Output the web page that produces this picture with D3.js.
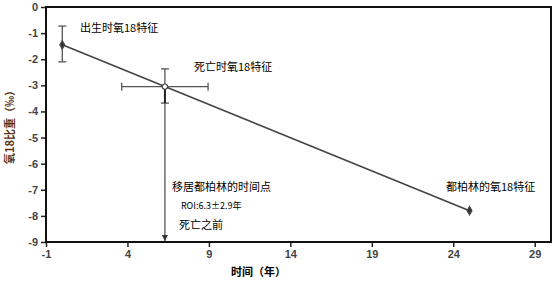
<!DOCTYPE html>
<html>
<head>
<meta charset="utf-8">
<script src="https://cdn.jsdelivr.net/npm/d3@7"></script>
<style>
body{margin:0;background:#fff;}
text{font-family:"Microsoft YaHei","Noto Sans CJK SC",sans-serif;}
</style>
</head>
<body>
<div id="chart"></div>
<script>
// data
var pointNames = ["出生时氧18特征", "死亡时氧18特征", "都柏林的氧18特征"];
var pointX = [0, 6.3, 25];
var pointY = [-1.45, -3.05, -7.8];
var yErrLow = [-2.1, -3.68, null];
var yErrHigh = [-0.73, -2.37, null];
var xErrLow = [null, 3.65, null];
var xErrHigh = [null, 8.95, null];
var xTicks = [-1, 4, 9, 14, 19, 24, 29];
var yTicks = [0, -1, -2, -3, -4, -5, -6, -7, -8, -9];
var moveTime = 6.3;

var margin = {top: 7, right: 3, bottom: 43, left: 46};
var width = 554 - margin.left - margin.right;
var height = 285 - margin.top - margin.bottom;

var svg = d3.select("#chart").append("svg")
  .attr("width", 554).attr("height", 285)
  .append("g")
  .attr("transform", "translate(" + margin.left + "," + margin.top + ")");

var x = d3.scaleLinear().domain([-1, 30]).range([0, width]);
var y = d3.scaleLinear().domain([-9, 0]).range([height, 0]);

var fmt = function(d) { return String(d); };

// x axis
var xAxis = svg.append("g")
  .attr("transform", "translate(0," + height + ")")
  .call(d3.axisBottom(x).tickValues(xTicks).tickSize(5).tickPadding(3).tickFormat(fmt));
xAxis.select(".domain").remove();
xAxis.selectAll("line").attr("stroke", "#222").attr("stroke-width", 1.5);
xAxis.selectAll("text").style("font-family", "Arial, 'Liberation Sans', sans-serif")
  .style("font-size", "11px").style("font-weight", "bold").attr("fill", "#444");

// y axis
var yAxis = svg.append("g")
  .call(d3.axisLeft(y).tickValues(yTicks).tickSize(5).tickPadding(3).tickFormat(fmt));
yAxis.select(".domain").remove();
yAxis.selectAll("line").attr("stroke", "#222").attr("stroke-width", 1.5);
yAxis.selectAll("text").style("font-family", "Arial, 'Liberation Sans', sans-serif")
  .style("font-size", "11px").style("font-weight", "bold").attr("fill", "#444");

// frame
svg.append("rect").attr("x", 0).attr("y", 0).attr("width", width).attr("height", height)
  .attr("fill", "none").attr("stroke", "#111").attr("stroke-width", 2);

// vertical line for moving time with arrow
svg.append("defs").append("marker")
  .attr("id", "arr").attr("viewBox", "0 0 10 10").attr("refX", 10).attr("refY", 5)
  .attr("markerWidth", 5).attr("markerHeight", 5).attr("orient", "auto")
  .append("path").attr("d", "M0,0L10,5L0,10Z").attr("fill", "#333");
svg.append("line")
  .attr("x1", x(moveTime)).attr("x2", x(moveTime))
  .attr("y1", y(pointY[1])).attr("y2", y(-9) - 1)
  .attr("stroke", "#555").attr("stroke-width", 1.3)
  .attr("marker-end", "url(#arr)");

// trend line
svg.append("line")
  .attr("x1", x(pointX[0])).attr("y1", y(pointY[0]))
  .attr("x2", x(pointX[2])).attr("y2", y(pointY[2]))
  .attr("stroke", "#444").attr("stroke-width", 1.6);

// error bars
pointX.forEach(function(px, i) {
  if (yErrLow[i] !== null) {
    svg.append("line").attr("x1", x(px)).attr("x2", x(px))
      .attr("y1", y(yErrLow[i])).attr("y2", y(yErrHigh[i]))
      .attr("stroke", "#555").attr("stroke-width", 1.3);
    [yErrLow[i], yErrHigh[i]].forEach(function(v) {
      svg.append("line").attr("x1", x(px) - 4).attr("x2", x(px) + 4)
        .attr("y1", y(v)).attr("y2", y(v)).attr("stroke", "#555").attr("stroke-width", 1.3);
    });
  }
  if (xErrLow[i] !== null) {
    svg.append("line").attr("x1", x(xErrLow[i])).attr("x2", x(xErrHigh[i]))
      .attr("y1", y(pointY[i])).attr("y2", y(pointY[i]))
      .attr("stroke", "#555").attr("stroke-width", 1.3);
    [xErrLow[i], xErrHigh[i]].forEach(function(v) {
      svg.append("line").attr("x1", x(v)).attr("x2", x(v))
        .attr("y1", y(pointY[i]) - 4).attr("y2", y(pointY[i]) + 4)
        .attr("stroke", "#555").attr("stroke-width", 1.3);
    });
  }
});
// darker lower half of death error bar
svg.append("line").attr("x1", x(pointX[1])).attr("x2", x(pointX[1]))
  .attr("y1", y(pointY[1])).attr("y2", y(yErrLow[1]))
  .attr("stroke", "#222").attr("stroke-width", 2);

// markers
svg.selectAll(".pt").data(pointX).enter().append("path")
  .attr("transform", function(d, i) { return "translate(" + x(d) + "," + y(pointY[i]) + ")"; })
  .attr("d", function(d, i) { return i === 1 ? d3.symbol(d3.symbolCircle, 22)() : d3.symbol(d3.symbolDiamond, 20)(); })
  .attr("fill", function(d, i) { return i === 1 ? "#fff" : "#333"; })
  .attr("stroke", "#444").attr("stroke-width", 1.2);

// point labels
var labelPos = [[34, 21], [148, 60], [400, 180]];
svg.selectAll(".lbl").data(pointNames).enter().append("text")
  .attr("x", function(d, i) { return labelPos[i][0]; })
  .attr("y", function(d, i) { return labelPos[i][1]; })
  .attr("dy", "0.35em")
  .style("font-size", "11px").attr("fill", "#000")
  .text(function(d) { return d; });

svg.append("text").attr("x", x(moveTime) + 7).attr("y", 180).attr("dy", "0.35em")
  .style("font-size", "11px").text("移居都柏林的时间点");
svg.append("text").attr("x", x(moveTime) + 16).attr("y", 199).attr("dy", "0.35em")
  .style("font-size", "9px").text("ROI:6.3±2.9年");
svg.append("text").attr("x", x(moveTime) + 14).attr("y", 218).attr("dy", "0.35em")
  .style("font-size", "11px").text("死亡之前");

// axis titles
svg.append("text").attr("x", width / 2 - 40).attr("y", height + 34)
  .attr("text-anchor", "middle").style("font-size", "11px").style("font-weight", "bold")
  .text("时间（年）");
svg.append("text")
  .attr("transform", "translate(-32," + (height / 2) + ") rotate(-90)")
  .attr("text-anchor", "middle").style("font-size", "11px").style("font-weight", "bold")
  .attr("fill", "#5c3310")
  .text("氧18比重（‰）");
</script>
</body>
</html>
